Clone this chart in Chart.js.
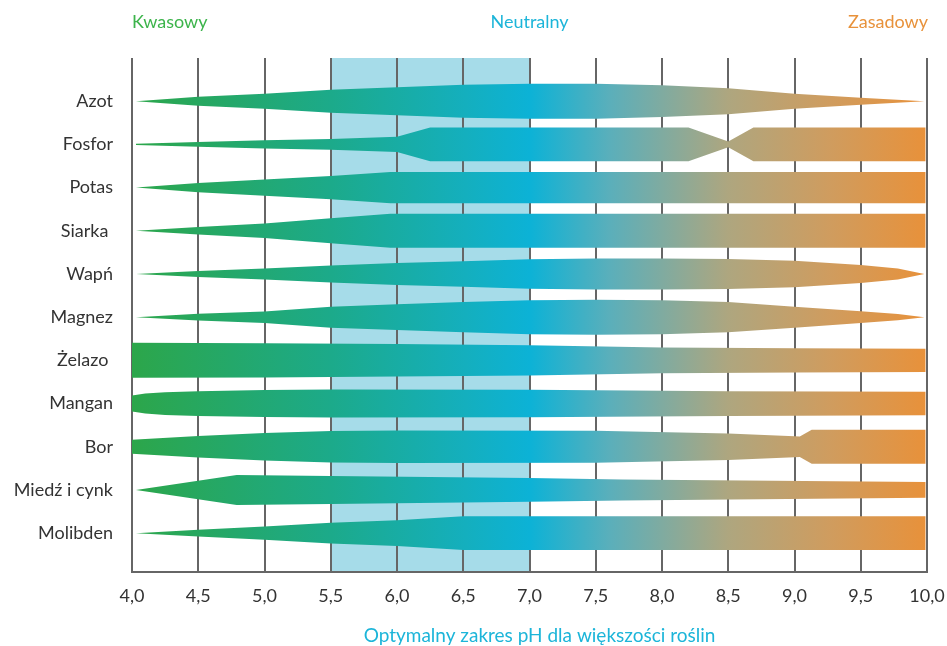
<!DOCTYPE html>
<html>
<head>
<meta charset="utf-8">
<script src="https://cdn.jsdelivr.net/npm/chart.js@4.4.0/dist/chart.umd.min.js"></script>
<style>
  body { margin: 0; background: #fff; }
  #wrap { width: 947px; height: 646px; position: relative; }
</style>
</head>
<body>
<div id="wrap"><canvas id="phChart"></canvas></div>
<script>
// nutrient names, top to bottom
var nutrients = ['Azot', 'Fosfor', 'Potas', 'Siarka ', 'Wapń', 'Magnez', 'Żelazo ', 'Mangan', 'Bor', 'Miedź i cynk', 'Molibden'];

// x axis tick labels (pH 4,0 .. 10,0)
var tickLabels = ['4,0', '4,5', '5,0', '5,5', '6,0', '6,5', '7,0', '7,5', '8,0', '8,5', '9,0', '9,5', '10,0'];

var zoneLabels = ['Kwasowy', 'Neutralny', 'Zasadowy'];
var optimalRange = [5.5, 7.0];
var optimalTitle = 'Optymalny zakres pH dla większości roślin';

// availability (0..1, relative band thickness) at given pH
var azotPh    = [4.03, 4.5, 5.0, 5.5, 6.0, 6.5, 7.0, 7.5, 8.0, 8.5, 9.0, 9.5, 9.98];
var azotLevel = [0, 0.26, 0.43, 0.66, 0.8, 0.94, 1, 1, 0.91, 0.74, 0.43, 0.2, 0];

var fosforPh    = [4.03, 4.5, 5.0, 5.5, 6.0, 6.25, 8.2, 8.5, 8.69, 9.99];
var fosforLevel = [0.03, 0.14, 0.23, 0.31, 0.43, 0.97, 0.97, 0.17, 0.97, 0.97];

var potasPh    = [4.03, 4.5, 5.0, 5.5, 5.95, 9.99];
var potasLevel = [0, 0.26, 0.46, 0.66, 0.89, 0.89];

var siarkaPh    = [4.03, 4.5, 5.0, 5.5, 5.95, 9.99];
var siarkaLevel = [0, 0.21, 0.42, 0.71, 0.97, 0.97];

var wapnPh    = [4.03, 4.5, 5.0, 5.5, 6.0, 6.5, 7.0, 7.5, 8.0, 8.5, 9.0, 9.5, 9.78, 9.98];
var wapnLevel = [0, 0.17, 0.31, 0.49, 0.63, 0.73, 0.84, 0.89, 0.89, 0.86, 0.76, 0.51, 0.31, 0];

var magnezPh    = [4.03, 4.5, 5.0, 5.5, 6.0, 6.5, 7.0, 7.5, 8.0, 8.5, 9.0, 9.5, 9.78, 9.98];
var magnezLevel = [0, 0.19, 0.33, 0.6, 0.74, 0.86, 0.97, 1, 0.97, 0.86, 0.6, 0.34, 0.18, 0];

var zelazoPh    = [4.0, 5.0, 6.0, 7.0, 8.0, 9.0, 9.99];
var zelazoLevel = [1, 0.98, 0.93, 0.86, 0.74, 0.69, 0.67];

var manganPh    = [4.0, 4.1, 4.25, 4.5, 5.0, 5.5, 7.0, 8.5, 9.99];
var manganLevel = [0.46, 0.57, 0.65, 0.71, 0.77, 0.8, 0.79, 0.71, 0.67];

var borPh    = [4.0, 4.5, 5.0, 5.5, 6.0, 7.5, 8.5, 9.0, 9.04, 9.13, 9.99];
var borLevel = [0.4, 0.62, 0.78, 0.9, 0.93, 0.91, 0.76, 0.6, 0.59, 0.97, 0.97];

var miedzPh    = [4.03, 4.79, 5.5, 7.0, 7.7, 9.99];
var miedzLevel = [0, 0.86, 0.8, 0.68, 0.6, 0.45];

var molibdenPh    = [4.03, 4.5, 5.0, 5.5, 6.0, 6.5, 9.99];
var molibdenLevel = [0, 0.2, 0.38, 0.59, 0.73, 0.97, 0.97];

var bandPh = [azotPh, fosforPh, potasPh, siarkaPh, wapnPh, magnezPh, zelazoPh, manganPh, borPh, miedzPh, molibdenPh];
var bandLevel = [azotLevel, fosforLevel, potasLevel, siarkaLevel, wapnLevel, magnezLevel, zelazoLevel, manganLevel, borLevel, miedzLevel, molibdenLevel];

var HALF = 0.405; // half height of a full band, in row units

function bandGradient(context) {
    var chart = context.chart;
    var area = chart.chartArea;
    if (!area) return null;
    var g = chart.ctx.createLinearGradient(area.left, 0, area.right, 0);
    g.addColorStop(0, '#2ca64a');
    g.addColorStop(0.25, '#1caa8a');
    g.addColorStop(0.42, '#14afbe');
    g.addColorStop(0.5, '#0cb2d6');
    g.addColorStop(0.6, '#5aafbb');
    g.addColorStop(0.75, '#aea67f');
    g.addColorStop(0.88, '#d09c5e');
    g.addColorStop(1, '#e8913a');
    return g;
}

// two edge lines per nutrient, the lower one fills up to the upper one
var datasets = [];
nutrients.forEach(function(name, i) {
    var top = [], bottom = [];
    bandPh[i].forEach(function(ph, j) {
        top.push({ x: ph, y: i - bandLevel[i][j] * HALF });
        bottom.push({ x: ph, y: i + bandLevel[i][j] * HALF });
    });
    datasets.push({ label: name, data: top, fill: false, borderWidth: 0, borderColor: 'rgba(0,0,0,0)', pointRadius: 0, tension: 0 });
    datasets.push({ label: name, data: bottom, fill: '-1', backgroundColor: bandGradient, borderWidth: 0, borderColor: 'rgba(0,0,0,0)', pointRadius: 0, tension: 0 });
});

var phDecor = {
    id: 'phDecor',
    beforeDraw: function(chart) {
        var ctx = chart.ctx, area = chart.chartArea, xs = chart.scales.x;
        var x1 = xs.getPixelForValue(optimalRange[0]);
        var x2 = xs.getPixelForValue(optimalRange[1]);
        ctx.save();
        ctx.fillStyle = '#a6dce9';
        ctx.fillRect(x1, area.top, x2 - x1, area.bottom - area.top);
        ctx.restore();
    },
    afterDraw: function(chart) {
        var ctx = chart.ctx, area = chart.chartArea, xs = chart.scales.x;
        ctx.save();
        ctx.font = '18px Lato';
        ctx.textBaseline = 'middle';
        ctx.fillStyle = '#3cb44b';
        ctx.textAlign = 'left';
        ctx.fillText(zoneLabels[0], area.left, 22);
        ctx.fillStyle = '#1cb5d9';
        ctx.textAlign = 'center';
        ctx.fillText(zoneLabels[1], xs.getPixelForValue(7.0), 22);
        ctx.fillStyle = '#e8923b';
        ctx.textAlign = 'right';
        ctx.fillText(zoneLabels[2], area.right + 1, 22);
        ctx.font = '19px Lato';
        ctx.fillStyle = '#1cb5d9';
        ctx.textAlign = 'center';
        ctx.fillText(optimalTitle, (area.left + area.right) / 2 + 10, 636);
        ctx.restore();
    }
};

var ctx = document.getElementById('phChart').getContext('2d');
var chart = new Chart(ctx, {
    type: 'line',
    data: { datasets: datasets },
    plugins: [phDecor],
    options: {
        responsive: true,
        maintainAspectRatio: false,
        animation: false,
        layout: { padding: { top: 58, right: 20, left: 0, bottom: 0 } },
        plugins: {
            legend: { display: false },
            tooltip: { enabled: false }
        },
        scales: {
            x: {
                type: 'linear',
                min: 4,
                max: 10,
                afterFit: function(scale) {
                    scale.height = 74;
                    scale.paddingLeft = 0;
                    scale.paddingRight = 0;
                },
                afterBuildTicks: function(scale) {
                    scale.ticks = tickLabels.map(function(t, i) { return { value: 4 + i * 0.5 }; });
                },
                ticks: {
                    padding: 13,
                    color: '#333',
                    font: { family: 'Lato', size: 18 },
                    maxRotation: 0,
                    autoSkip: false,
                    callback: function(v, i) { return tickLabels[i]; }
                },
                grid: { color: '#666', lineWidth: 2, drawTicks: false },
                border: { display: true, color: '#666', width: 2 }
            },
            y: {
                type: 'linear',
                min: -1,
                max: 10.9,
                reverse: true,
                afterFit: function(scale) { scale.width = 132; },
                afterBuildTicks: function(scale) {
                    scale.ticks = nutrients.map(function(n, i) { return { value: i }; });
                },
                ticks: {
                    padding: 19,
                    color: '#333',
                    font: { family: 'Lato', size: 18 },
                    autoSkip: false,
                    callback: function(v, i) { return nutrients[i]; }
                },
                grid: { display: false, drawTicks: false },
                border: { display: false }
            }
        }
    }
});
</script>
</body>
</html>
